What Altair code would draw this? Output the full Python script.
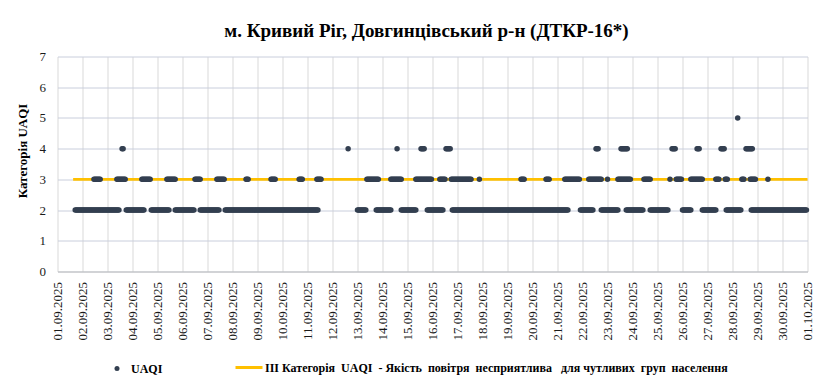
import altair as alt
import pandas as pd

title_text = "м. Кривий Ріг, Довгинцівський р-н (ДТКР-16*)"
y_title = "Категорія UAQI"
series_name = "UAQI"
threshold_name = ("III Категорія\u00a0 UAQI\u00a0 - Якість\u00a0 повітря\u00a0 несприятлива\u00a0\u00a0 "
                  "для чутливих\u00a0 груп\u00a0 населення")

# runs of hourly UAQI readings per category: (first hour, last hour) as "DD.MM HH"
runs_cat2 = [
    ("01.09 17", "03.09 11"), ("03.09 18", "04.09 11"), ("04.09 18", "05.09 11"),
    ("05.09 17", "06.09 11"), ("06.09 17", "07.09 11"), ("07.09 17", "11.09 10"),
    ("13.09 00", "13.09 08"), ("13.09 18", "14.09 08"), ("14.09 18", "15.09 08"),
    ("15.09 19", "16.09 10"), ("16.09 19", "21.09 10"), ("21.09 22", "22.09 10"),
    ("22.09 18", "23.09 10"), ("23.09 18", "24.09 10"), ("24.09 17", "25.09 10"),
    ("26.09 00", "26.09 08"), ("26.09 19", "27.09 08"), ("27.09 18", "28.09 08"),
    ("28.09 18", "30.09 23"),
]
runs_cat3 = [
    ("02.09 11", "02.09 17"), ("03.09 09", "03.09 17"), ("04.09 09", "04.09 17"),
    ("05.09 09", "05.09 17"), ("06.09 12", "06.09 17"), ("07.09 09", "07.09 16"),
    ("08.09 13", "08.09 15"), ("09.09 13", "09.09 17"), ("10.09 16", "10.09 19"),
    ("11.09 09", "11.09 13"), ("13.09 09", "13.09 20"), ("14.09 08", "14.09 18"),
    ("15.09 08", "15.09 23"), ("16.09 07", "16.09 12"), ("16.09 18", "17.09 13"),
    ("17.09 21", "17.09 21"), ("19.09 13", "19.09 16"), ("20.09 13", "20.09 16"),
    ("21.09 07", "21.09 21"), ("22.09 06", "22.09 18"), ("23.09 00", "23.09 00"),
    ("23.09 10", "23.09 22"), ("24.09 11", "24.09 17"), ("25.09 12", "25.09 12"),
    ("25.09 18", "25.09 23"), ("26.09 08", "26.09 19"), ("27.09 08", "27.09 11"),
    ("27.09 17", "27.09 19"), ("28.09 09", "28.09 11"), ("28.09 17", "28.09 22"),
    ("29.09 10", "29.09 10"),
]
runs_cat4 = [
    ("03.09 14", "03.09 15"), ("12.09 15", "12.09 15"), ("14.09 14", "14.09 14"),
    ("15.09 13", "15.09 16"), ("16.09 13", "16.09 17"), ("22.09 13", "22.09 15"),
    ("23.09 13", "23.09 19"), ("25.09 14", "25.09 17"), ("26.09 14", "26.09 16"),
    ("27.09 13", "27.09 16"), ("28.09 13", "28.09 19"),
]
runs_cat5 = [("28.09 05", "28.09 05")]

threshold_value = 3
threshold_start = "01.09 15"
threshold_end = "01.10 00"

tick_labels = [
    "01.09.2025", "02.09.2025", "03.09.2025", "04.09.2025", "05.09.2025", "06.09.2025",
    "07.09.2025", "08.09.2025", "09.09.2025", "10.09.2025", "11.09.2025", "12.09.2025",
    "13.09.2025", "14.09.2025", "15.09.2025", "16.09.2025", "17.09.2025", "18.09.2025",
    "19.09.2025", "20.09.2025", "21.09.2025", "22.09.2025", "23.09.2025", "24.09.2025",
    "25.09.2025", "26.09.2025", "27.09.2025", "28.09.2025", "29.09.2025", "30.09.2025",
    "01.10.2025",
]


def stamp(s):
    d, rest = s.split(".")
    m, h = rest.split(" ")
    return pd.Timestamp(year=2025, month=int(m), day=int(d), hour=int(h))


rows = []
for cat, runs in [(2, runs_cat2), (3, runs_cat3), (4, runs_cat4), (5, runs_cat5)]:
    for a, b in runs:
        for t in pd.date_range(stamp(a), stamp(b), freq="h"):
            rows.append({"time": t.strftime("%Y-%m-%dT%H:%M:%SZ"), "value": cat, "series": series_name})
points_df = pd.DataFrame(rows)

line_df = pd.DataFrame({
    "time": [stamp(threshold_start).strftime("%Y-%m-%dT%H:%M:%SZ"),
             stamp(threshold_end).strftime("%Y-%m-%dT%H:%M:%SZ")],
    "value": [threshold_value, threshold_value],
    "series": [threshold_name, threshold_name],
})


def dt(lbl):
    d, m, y = lbl.split(".")
    return alt.DateTime(year=int(y), month=int(m), date=int(d), utc=True)


tick_values = [dt(l) for l in tick_labels]

FONT = "Liberation Serif"

x_enc = alt.X(
    "time:T",
    scale=alt.Scale(type="utc", domain=[tick_values[0], tick_values[-1]]),
    axis=alt.Axis(
        values=tick_values, format="%d.%m.%Y", labelAngle=-90, title=None,
        ticks=False, labelPadding=10, labelFont=FONT, labelFontSize=13,
        labelColor="#1a1a1a", labelOverlap=False, labelFlush=False,
        grid=True, gridColor="#d9d9d9", gridWidth=1,
        domainColor="#bfbfbf", domainWidth=1,
    ),
)
y_enc = alt.Y(
    "value:Q",
    scale=alt.Scale(domain=[0, 7], nice=False),
    axis=alt.Axis(
        values=[0, 1, 2, 3, 4, 5, 6, 7], title=y_title, titleFont=FONT,
        titleFontSize=13, titleFontWeight="bold", titleColor="#000000",
        titlePadding=10, titleY=94, ticks=False, labelPadding=12, labelFont=FONT,
        labelFontSize=13, labelColor="#1a1a1a", domain=False,
        grid=True, gridColor="#c9cedc", gridWidth=1,
    ),
)

line = alt.Chart(line_df).mark_line(strokeWidth=2.75).encode(
    x=x_enc, y=y_enc,
    stroke=alt.Stroke(
        "series:N",
        scale=alt.Scale(domain=[threshold_name], range=["#ffc000"]),
        legend=alt.Legend(
            title=None, orient="none", legendX=176.5, legendY=296, symbolType="stroke",
            symbolSize=729, symbolStrokeWidth=3, labelOffset=1, labelFont=FONT,
            labelFontSize=12, labelFontWeight="bold", labelLimit=800, padding=0,
            labelColor="#000000",
        ),
    ),
)

points = alt.Chart(points_df).mark_circle(size=30, opacity=1).encode(
    x=x_enc, y=y_enc,
    color=alt.Color(
        "series:N",
        scale=alt.Scale(domain=[series_name], range=["#333f50"]),
        legend=alt.Legend(
            title=None, orient="none", legendX=53.5, legendY=306, symbolType="circle",
            symbolSize=25, labelOffset=8, labelFont=FONT, labelFontSize=12,
            labelFontWeight="bold", labelLimit=200, padding=0, labelColor="#000000",
        ),
    ),
)

chart = alt.layer(line, points).properties(
    width=750, height=215,
    title=alt.TitleParams(title_text, font=FONT, fontSize=19, fontWeight="bold",
                          anchor="middle", offset=10, dx=-6, color="#000000"),
    padding={"left": 7.5, "top": 13.5, "right": 0, "bottom": 0},
    background="#ffffff",
).configure_view(stroke=None)

chart.save("out.html", embed_options={"renderer": "svg", "actions": False})
